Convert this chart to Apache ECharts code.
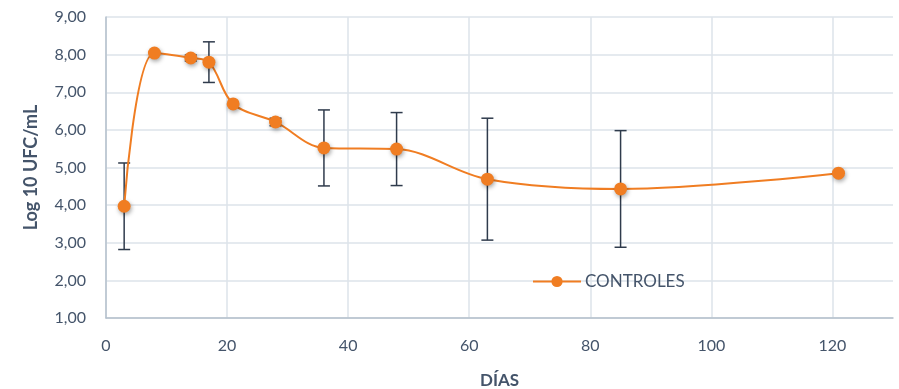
<!DOCTYPE html>
<html>
<head>
<meta charset="utf-8">
<script src="https://cdn.jsdelivr.net/npm/echarts@6/dist/echarts.min.js"></script>
<style>
  html, body { margin: 0; padding: 0; background: #ffffff; }
  #chart { width: 899px; height: 389px; }
</style>
</head>
<body>
<div id="chart"></div>
<script>
// Days of sampling
const days = [3, 8, 14, 17, 21, 28, 36, 48, 63, 85, 121];
// Mean count, Log 10 UFC/mL
const controles = [3.97, 8.04, 7.91, 7.80, 6.69, 6.21, 5.52, 5.49, 4.69, 4.43, 4.85];
// Standard deviation (symmetric error bars)
const desviacion = [1.15, 0.0, 0.08, 0.54, 0.0, 0.1, 1.01, 0.97, 1.62, 1.55, 0.0];

const xTicks = [0, 20, 40, 60, 80, 100, 120];
const yMin = 1, yMax = 9;

const textColor = '#44546a';
const gridColor = '#dde3ea';
const fontFamily = 'Lato, "Open Sans", sans-serif';

const lineData = days.map((d, i) => [d, controles[i]]);
const errData = days.map((d, i) => [d, controles[i] - desviacion[i], controles[i] + desviacion[i]])
  .filter((e, i) => desviacion[i] > 0);

const chart = echarts.init(document.getElementById('chart'), null, { renderer: 'canvas' });

chart.setOption({
  animation: false,
  backgroundColor: '#ffffff',
  textStyle: { fontFamily: fontFamily },
  grid: { left: 106, right: 6, top: 17, bottom: 71, containLabel: false, outerBoundsMode: 'none' },
  legend: {
    left: 527, top: 268,
    itemWidth: 48, itemHeight: 14, itemGap: 6,
    data: ['CONTROLES'],
    textStyle: { color: textColor, fontSize: 17, fontFamily: fontFamily, padding: [0, 0, 0, -1] }
  },
  xAxis: {
    type: 'value',
    min: 0, max: 130, interval: 20,
    name: 'DÍAS',
    nameLocation: 'middle',
    nameGap: 54,
    nameTextStyle: { color: textColor, fontSize: 17, fontWeight: 'bold', fontFamily: fontFamily },
    axisLine: { show: true, lineStyle: { color: '#b4c0cc', width: 1.5 } },
    axisTick: { show: false },
    axisLabel: {
      color: textColor, fontSize: 16, margin: 20, fontFamily: fontFamily,
      formatter: v => xTicks.includes(v) ? String(v) : ''
    },
    splitLine: {
      show: true,
      lineStyle: { color: [gridColor, gridColor, gridColor, gridColor, gridColor, gridColor, gridColor, 'rgba(0,0,0,0)'], width: 1.5 }
    }
  },
  yAxis: {
    type: 'value',
    min: yMin, max: yMax, interval: 1,
    name: 'Log 10 UFC/mL',
    nameLocation: 'middle',
    nameGap: 66,
    nameTextStyle: { color: textColor, fontSize: 18, fontWeight: 'bold', fontFamily: fontFamily },
    axisLine: { show: true, lineStyle: { color: '#b4c0cc', width: 1.5 } },
    axisTick: { show: false },
    axisLabel: {
      color: textColor, fontSize: 16, margin: 20, fontFamily: fontFamily,
      formatter: v => v.toFixed(2).replace('.', ',')
    },
    splitLine: { show: true, lineStyle: { color: gridColor, width: 1.5 } }
  },
  series: [
    {
      name: 'errores',
      type: 'custom',
      z: 1,
      silent: true,
      data: errData,
      renderItem: function (params, api) {
        const x = api.value(0);
        const lo = api.coord([x, api.value(1)]);
        const hi = api.coord([x, api.value(2)]);
        const cap = 6;
        const style = { stroke: '#2f3b4c', lineWidth: 1.5 };
        return {
          type: 'group',
          children: [
            { type: 'line', shape: { x1: lo[0], y1: lo[1], x2: hi[0], y2: hi[1] }, style: style },
            { type: 'line', shape: { x1: lo[0] - cap, y1: lo[1], x2: lo[0] + cap, y2: lo[1] }, style: style },
            { type: 'line', shape: { x1: hi[0] - cap, y1: hi[1], x2: hi[0] + cap, y2: hi[1] }, style: style }
          ]
        };
      }
    },
    {
      name: 'CONTROLES',
      type: 'line',
      z: 3,
      data: lineData,
      smooth: 0.35,
      symbol: 'circle',
      symbolSize: 13,
      lineStyle: { color: '#f07d22', width: 2 },
      itemStyle: {
        color: '#f07d22',
        shadowColor: 'rgba(0,0,0,0.35)', shadowBlur: 4, shadowOffsetX: 1, shadowOffsetY: 2
      }
    }
  ]
});
</script>
</body>
</html>
